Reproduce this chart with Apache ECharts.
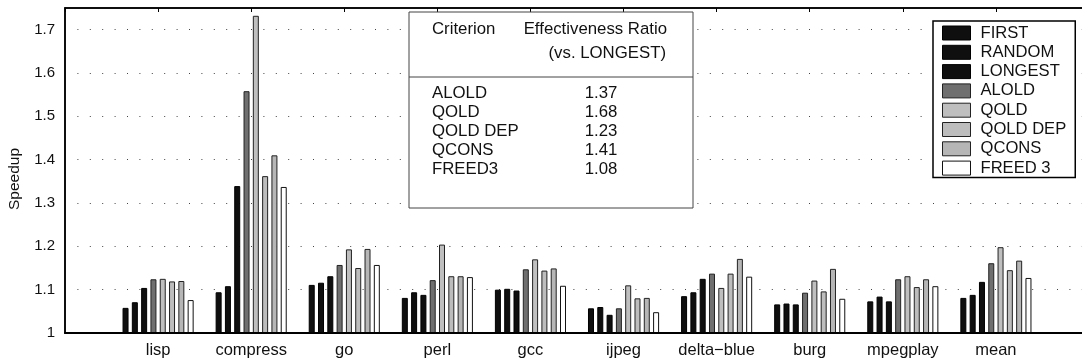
<!DOCTYPE html>
<html>
<head>
<meta charset="utf-8">
<script src="https://cdn.jsdelivr.net/npm/echarts@6/dist/echarts.min.js"></script>
<style>
  html, body { margin: 0; padding: 0; background: #fff; }
  #chart { width: 1082px; height: 362px; }
</style>
</head>
<body>
<div id="chart"></div>
<script>
// Benchmarks along the x axis
const benchmarks = ['lisp', 'compress', 'go', 'perl', 'gcc', 'ijpeg', 'delta\u2212blue', 'burg', 'mpegplay', 'mean'];

// Speedup of each selection criterion per benchmark
const firstVals    = [1.058, 1.094, 1.111, 1.081, 1.100, 1.057, 1.085, 1.066, 1.073, 1.081];
const randomVals   = [1.071, 1.108, 1.116, 1.094, 1.102, 1.060, 1.094, 1.068, 1.084, 1.088];
const longestVals  = [1.104, 1.339, 1.131, 1.088, 1.098, 1.042, 1.125, 1.066, 1.073, 1.118];
const aloldVals    = [1.124, 1.558, 1.157, 1.122, 1.147, 1.057, 1.137, 1.093, 1.124, 1.161];
const qoldVals     = [1.125, 1.732, 1.193, 1.204, 1.170, 1.110, 1.104, 1.121, 1.131, 1.198];
const qoldDepVals  = [1.119, 1.362, 1.150, 1.131, 1.144, 1.080, 1.137, 1.096, 1.106, 1.145];
const qconsVals    = [1.120, 1.410, 1.194, 1.131, 1.149, 1.081, 1.171, 1.148, 1.124, 1.167];
const freed3Vals   = [1.076, 1.337, 1.157, 1.129, 1.109, 1.048, 1.130, 1.079, 1.108, 1.127];

// Y axis tick labels
const yTicks = [1, 1.1, 1.2, 1.3, 1.4, 1.5, 1.6, 1.7];

// Inset table: effectiveness ratio vs. LONGEST
const tableCriteria = ['ALOLD', 'QOLD', 'QOLD DEP', 'QCONS', 'FREED3'];
const tableRatios   = ['1.37', '1.68', '1.23', '1.41', '1.08'];

const FONT = '"Liberation Sans", Arial, Helvetica, sans-serif';
const TXT = '16.8px ' + FONT;

const seriesDefs = [
  { name: 'FIRST',    data: firstVals,   color: '#0f0f0f', border: '#000' },
  { name: 'RANDOM',   data: randomVals,  color: '#0f0f0f', border: '#000' },
  { name: 'LONGEST',  data: longestVals, color: '#0f0f0f', border: '#000' },
  { name: 'ALOLD',    data: aloldVals,   color: '#6f6f6f', border: '#222' },
  { name: 'QOLD',     data: qoldVals,    color: '#bfbfbf', border: '#222' },
  { name: 'QOLD DEP', data: qoldDepVals, color: '#bdbdbd', border: '#222' },
  { name: 'QCONS',    data: qconsVals,   color: '#b6b6b6', border: '#222' },
  { name: 'FREED 3',  data: freed3Vals,  color: '#ffffff', border: '#111' }
];

// One empty slot on each side so that the groups sit a full step in from the box
const xCats = [''].concat(benchmarks, ['']);

const series = seriesDefs.map(d => ({
  name: d.name,
  type: 'bar',
  data: [null].concat(d.data, [null]),
  barWidth: 6,
  barGap: '55%',
  itemStyle: { color: d.color, borderColor: d.border, borderWidth: 1 },
  emphasis: { disabled: true },
  z: 3
}));

// Inset table graphics
const tableLeft = 409, tableTop = 12, tableRight = 693, tableBottom = 208, tableDivider = 77;
const rowYs = [93.3, 112.3, 131.5, 150.3, 169];
const tableGraphics = [
  { type: 'rect', z: 100,
    shape: { x: tableLeft, y: tableTop, width: tableRight - tableLeft, height: tableBottom - tableTop },
    style: { fill: '#fff', stroke: '#444', lineWidth: 1 } },
  { type: 'line', z: 101,
    shape: { x1: tableLeft, y1: tableDivider, x2: tableRight, y2: tableDivider },
    style: { stroke: '#444', lineWidth: 1 } },
  { type: 'text', z: 101, x: 432, y: 29.5,
    style: { text: 'Criterion', font: TXT, fill: '#111', align: 'left', verticalAlign: 'middle' } },
  { type: 'text', z: 101, x: 667, y: 29.5,
    style: { text: 'Effectiveness Ratio', font: TXT, fill: '#111', align: 'right', verticalAlign: 'middle' } },
  { type: 'text', z: 101, x: 666, y: 53,
    style: { text: '(vs. LONGEST)', font: TXT, fill: '#111', align: 'right', verticalAlign: 'middle' } }
];
tableCriteria.forEach((c, i) => {
  tableGraphics.push({ type: 'text', z: 101, x: 432, y: rowYs[i],
    style: { text: c, font: TXT, fill: '#111', align: 'left', verticalAlign: 'middle' } });
  tableGraphics.push({ type: 'text', z: 101, x: 601, y: rowYs[i],
    style: { text: tableRatios[i], font: TXT, fill: '#111', align: 'center', verticalAlign: 'middle' } });
});
// Y axis title
tableGraphics.push({ type: 'text', z: 101, x: 15, y: 179, rotation: Math.PI / 2,
  style: { text: 'Speedup', font: '15.5px ' + FONT, fill: '#111', align: 'center', verticalAlign: 'middle' } });

const chart = echarts.init(document.getElementById('chart'), null, { renderer: 'canvas' });
chart.setOption({
  animation: false,
  backgroundColor: '#fff',
  textStyle: { fontFamily: FONT },
  grid: {
    left: 65, top: 8, bottom: 29, right: -7,
    outerBoundsMode: 'none',
    containLabel: false,
    show: true, borderColor: '#000', borderWidth: 1.5, backgroundColor: 'transparent'
  },
  legend: {
    orient: 'vertical',
    left: 933, top: 21,
    padding: [3.5, 9, 1, 9],
    backgroundColor: '#fff',
    borderColor: '#000',
    borderWidth: 1.5,
    borderRadius: 0,
    itemWidth: 28,
    itemHeight: 14,
    itemGap: 2.3,
    icon: 'rect',
    selectedMode: false,
    textStyle: { fontFamily: FONT, fontSize: 16.6, color: '#111', padding: [0, 0, 0, 5] },
    data: seriesDefs.map(d => ({
      name: d.name,
      itemStyle: { color: d.color, borderColor: d.border, borderWidth: 1 }
    })),
    z: 50
  },
  xAxis: [
    {
      type: 'category',
      data: xCats,
      boundaryGap: false,
      axisLine: { show: true, lineStyle: { color: '#000', width: 2 } },
      axisTick: { show: false },
      axisLabel: { fontFamily: FONT, fontSize: 16.5, color: '#111', margin: 9, interval: 0 },
      splitLine: { show: false },
      z: 5
    },
    {
      type: 'category',
      position: 'top',
      data: xCats,
      boundaryGap: false,
      axisLine: { show: true, lineStyle: { color: '#000', width: 1.5 } },
      axisTick: { show: true, inside: true, length: 4, interval: 0, lineStyle: { color: '#000' } },
      axisLabel: { show: false },
      splitLine: { show: false }
    }
  ],
  yAxis: {
    type: 'value',
    min: 1,
    max: 1.75,
    interval: 0.1,
    axisLine: { show: true, lineStyle: { color: '#000', width: 1.5 } },
    axisTick: { show: false },
    axisLabel: {
      fontFamily: FONT, fontSize: 15, color: '#111', margin: 10,
      formatter: v => {
        const hit = yTicks.find(t => Math.abs(t - v) < 1e-6);
        return hit === undefined ? '' : String(hit);
      }
    },
    splitLine: { show: true, lineStyle: { color: '#444', width: 1, type: [1, 11.4] } }
  },
  graphic: tableGraphics,
  series: series
});
</script>
</body>
</html>
